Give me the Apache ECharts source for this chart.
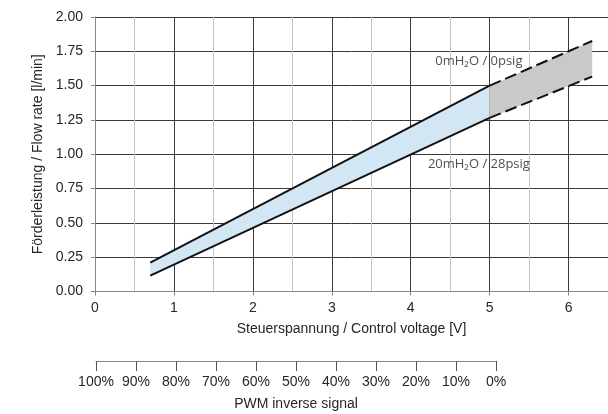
<!DOCTYPE html>
<html>
<head>
<meta charset="utf-8">
<script src="https://cdn.jsdelivr.net/npm/echarts@6/dist/echarts.min.js"></script>
<style>
html,body{margin:0;padding:0;background:#fff;}
#chart{width:608px;height:414px;}
</style>
</head>
<body>
<div id="chart"></div>
<script>
// ---- data ----
const voltSolid   = [0.7, 5.0];
const upperSolid  = [0.21, 1.50];    // 0mH2O / 0psig
const lowerSolid  = [0.115, 1.265];  // 20mH2O / 28psig
const voltDashed  = [5.0, 6.3];
const upperDashed = [1.50, 1.825];
const lowerDashed = [1.265, 1.566];
const yTicks = [0, 0.25, 0.5, 0.75, 1.0, 1.25, 1.5, 1.75, 2.0];
const pwmRange = [0, 100];
const labelUpper = {text: '0mH₂O / 0psig', x: 4.864, y: 1.675};
const labelLower = {text: '20mH₂O / 28psig', x: 4.864, y: 0.93};

const FONT = 'Liberation Sans';
const TXT = '#262626';
const FS = 14;

function pairs(xs, ys){ return xs.map((x,i)=>[x, ys[i]]); }

function bandSeries(xs, up, lo, color){
  return {
    type: 'custom',
    xAxisIndex: 0, yAxisIndex: 0,
    silent: true,
    z: 1,
    data: [[xs[0], lo[0]]],
    renderItem: function(params, api){
      const pts = [];
      for (let i = 0; i < xs.length; i++) pts.push(api.coord([xs[i], up[i]]));
      for (let i = xs.length - 1; i >= 0; i--) pts.push(api.coord([xs[i], lo[i]]));
      return {type: 'polygon', shape: {points: pts}, style: {fill: color, stroke: null}};
    }
  };
}

function lineSeries(xs, ys, dashed){
  return {
    type: 'line',
    xAxisIndex: 0, yAxisIndex: 0,
    data: pairs(xs, ys),
    symbol: 'none',
    z: 3,
    lineStyle: {color: '#111', width: 2, type: dashed ? [12, 5] : 'solid'}
  };
}

function labelSeries(lab){
  return {
    type: 'scatter',
    xAxisIndex: 0, yAxisIndex: 0,
    symbolSize: 1,
    itemStyle: {color: 'rgba(0,0,0,0)'},
    z: 4,
    data: [[lab.x, lab.y]],
    label: {show: true, position: 'inside', formatter: lab.text,
      fontFamily: 'Open Sans', fontSize: 13, color: '#222'}
  };
}

const chart = echarts.init(document.getElementById('chart'), null, {renderer: 'canvas'});
chart.setOption({
  animation: false,
  backgroundColor: '#fff',
  grid: [
    {left: 95, top: 17, width: 515.5, height: 274.5, containLabel: false},
    {left: 96, top: 361, width: 400, height: 0, containLabel: false}
  ],
  xAxis: [
    {
      type: 'value', gridIndex: 0, min: 0, max: 6.5, interval: 1,
      name: 'Steuerspannung / Control voltage [V]',
      nameLocation: 'middle', nameGap: 31,
      nameTextStyle: {fontFamily: FONT, fontSize: FS, color: TXT},
      axisLine: {show: true, onZero: false, lineStyle: {color: '#868686', width: 1}},
      axisTick: {show: true, length: 4, lineStyle: {color: '#868686'}},
      axisLabel: {margin: 10, fontFamily: FONT, fontSize: FS, color: TXT,
        showMaxLabel: false,
        formatter: v => (Number.isInteger(v) ? String(v) : '')},
      splitLine: {show: true, lineStyle: {color: '#3a3a3a', width: 1}},
      minorTick: {show: false, splitNumber: 2},
      minorSplitLine: {show: true, lineStyle: {color: '#c4c4c4', width: 1}}
    },
    {
      type: 'value', gridIndex: 1, min: pwmRange[0], max: pwmRange[1], interval: 10,
      inverse: true, position: 'bottom',
      name: 'PWM inverse signal',
      nameLocation: 'middle', nameGap: 36,
      nameTextStyle: {fontFamily: FONT, fontSize: FS, color: TXT},
      axisLine: {show: true, onZero: false, lineStyle: {color: '#868686', width: 1}},
      axisTick: {show: true, length: 10, lineStyle: {color: '#555'}},
      axisLabel: {margin: 14, fontFamily: FONT, fontSize: FS, color: TXT,
        formatter: v => v + '%'},
      splitLine: {show: false}
    }
  ],
  yAxis: [
    {
      type: 'value', gridIndex: 0, min: yTicks[0], max: yTicks[yTicks.length-1], interval: 0.25,
      name: 'Förderleistung / Flow rate [l/min]',
      nameLocation: 'middle', nameGap: 50,
      nameTextStyle: {fontFamily: FONT, fontSize: FS, color: TXT},
      axisLine: {show: true, lineStyle: {color: '#868686', width: 1}},
      axisTick: {show: true, length: 4, lineStyle: {color: '#868686'}},
      axisLabel: {margin: 12, fontFamily: FONT, fontSize: FS, color: TXT,
        formatter: v => v.toFixed(2)},
      splitLine: {show: true, lineStyle: {color: '#3a3a3a', width: 1}}
    },
    {type: 'value', gridIndex: 1, show: false, min: 0, max: 1}
  ],
  series: [
    bandSeries(voltSolid, upperSolid, lowerSolid, '#d2e6f4'),
    bandSeries(voltDashed, upperDashed, lowerDashed, '#c9c9c9'),
    lineSeries(voltSolid, upperSolid, false),
    lineSeries(voltSolid, lowerSolid, false),
    lineSeries(voltDashed, upperDashed, true),
    lineSeries(voltDashed, lowerDashed, true),
    labelSeries(labelUpper),
    labelSeries(labelLower)
  ]
});
</script>
</body>
</html>
